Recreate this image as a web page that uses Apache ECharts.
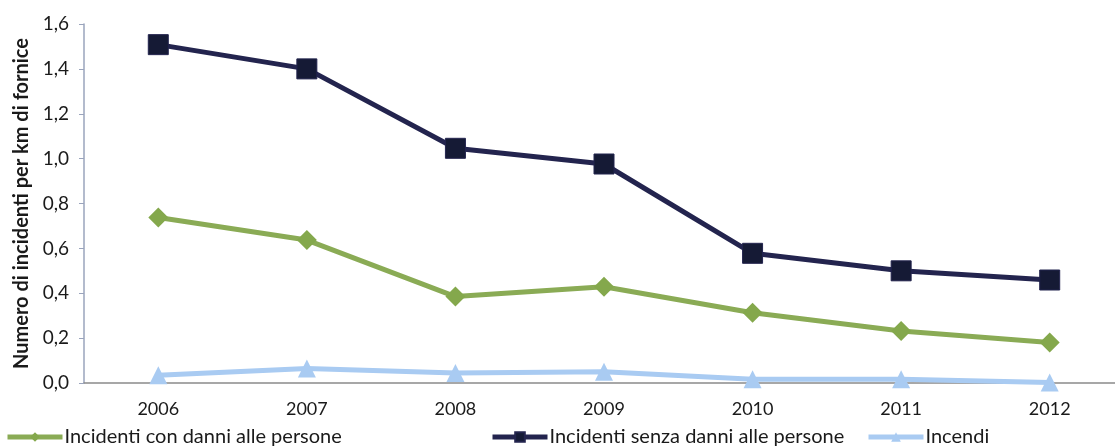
<!DOCTYPE html>
<html><head><meta charset="utf-8">
<script src="https://cdn.jsdelivr.net/npm/echarts@6/dist/echarts.min.js"></script>
<style>html,body{margin:0;padding:0;background:#fff}#c{width:1115px;height:447px}</style>
</head><body><div id="c"></div>
<script>
const categories = ['2006','2007','2008','2009','2010','2011','2012'];
const conDanni = [0.738, 0.637, 0.385, 0.429, 0.313, 0.232, 0.18];
const senzaDanni = [1.508, 1.40, 1.046, 0.976, 0.578, 0.50, 0.459];
const incendi = [0.035, 0.065, 0.045, 0.05, 0.017, 0.017, 0.002];
const seriesNames = ['Incidenti con danni alle persone','Incidenti senza danni alle persone','Incendi'];
const yAxisName = 'Numero di incidenti per km di fornice';

const font = 'Lato';
const chart = echarts.init(document.getElementById('c'));
const legendBase = {bottom: 0, itemWidth: 55, itemHeight: 12, itemGap: 0,
  lineStyle: {width: 5},
  textStyle: {fontFamily: font, fontSize: 20, color: '#1a1a1a', padding:[0,0,0,-3]}, padding: 0};
chart.setOption({
  animation: false,
  textStyle: {fontFamily: font},
  grid: {left: 84, right: -9, top: 24, bottom: 64, outerBoundsMode: 'none', containLabel: false},
  legend: [
    Object.assign({}, legendBase, {left: 5, data: [seriesNames[0]]}),
    Object.assign({}, legendBase, {left: 490, data: [seriesNames[1]]}),
    Object.assign({}, legendBase, {left: 866, data: [seriesNames[2]]})
  ],
  xAxis: {
    type: 'category', data: categories, boundaryGap: true,
    axisLine: {lineStyle: {color: '#8a8a8a', width: 1.5}},
    axisTick: {length: 6, lineStyle: {color: '#8a8a8a'}},
    axisLabel: {fontFamily: font, fontSize: 18, color: '#1a1a1a', margin: 17}
  },
  yAxis: {
    type: 'value', min: 0, max: 1.6, interval: 0.2,
    name: yAxisName, nameLocation: 'middle', nameGap: 47, nameRotate: 90,
    nameTextStyle: {fontFamily: font, fontSize: 20, fontWeight: 'bold', color: '#1a1a1a'},
    axisLine: {show: true, lineStyle: {color: '#9aa4bc', width: 1.5}},
    axisTick: {show: true, length: 5, lineStyle: {color: '#9aa4bc'}},
    splitLine: {show: false},
    axisLabel: {fontFamily: font, fontSize: 19, color: '#1a1a1a', margin: 15,
      formatter: v => v.toFixed(1).replace('.', ',')}
  },
  series: [
    {name: seriesNames[2], type: 'line', data: incendi, z: 1,
      symbol: 'triangle', symbolSize: 18,
      lineStyle: {color: '#a9cbf2', width: 5}, itemStyle: {color: '#a9cbf2'}},
    {name: seriesNames[0], type: 'line', data: conDanni, z: 2,
      symbol: 'diamond', symbolSize: 20,
      lineStyle: {color: '#8aab55', width: 5}, itemStyle: {color: '#84a84c'}},
    {name: seriesNames[1], type: 'line', data: senzaDanni, z: 3,
      symbol: 'rect', symbolSize: 20,
      lineStyle: {color: '#23244e', width: 5}, itemStyle: {color: '#151a35', borderColor: '#23244e', borderWidth: 1}}
  ]
});
</script></body></html>
